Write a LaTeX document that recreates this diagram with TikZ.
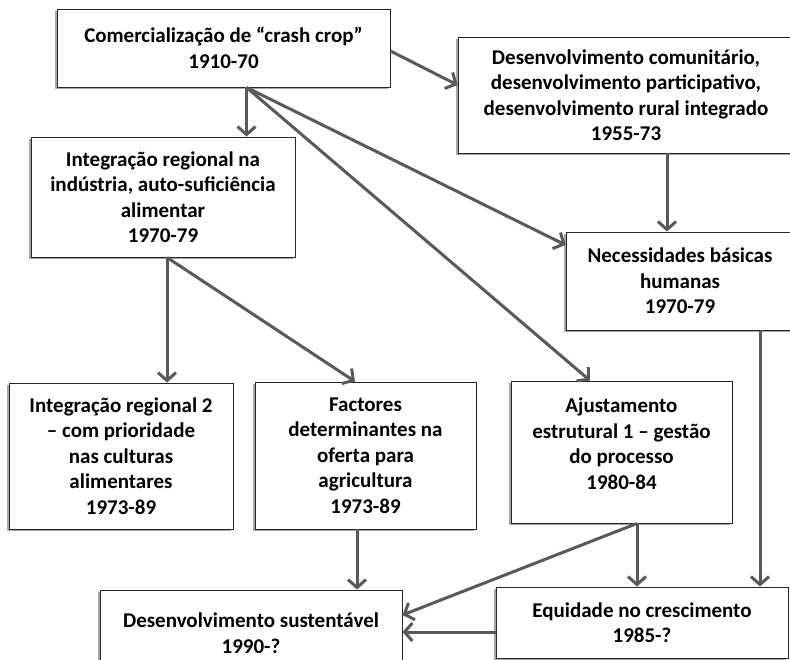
\documentclass[tikz,border=0pt]{standalone}
\usepackage{fontspec}
\setmainfont{Carlito}
\usetikzlibrary{arrows.meta,shadows}
\definecolor{arrowgray}{RGB}{89,89,89}
\tikzset{
  box/.style={draw=black!85, line width=0.9pt, fill=white, inner sep=0pt,
    align=center, font=\fontsize{21}{25.5}\selectfont\bfseries,
    drop shadow={shadow xshift=-2.5pt, shadow yshift=-2pt, opacity=0.35, fill=black}},
  txt/.style={inner sep=0pt, align=center, font=\fontsize{21}{25.5}\selectfont\bfseries},
  conn/.style={draw=arrowgray, line width=3pt, -{Straight Barb[length=8pt,width=18pt]}},
}
\begin{document}
\begin{tikzpicture}[x=1pt,y=-1pt]
\useasboundingbox (0,0) rectangle (790,660);
\clip (0,0) rectangle (790,660);
\node[box, minimum width=333pt, minimum height=78pt] (A) at (223.5,48)
  {Comercialização de “crash crop”\\1910-70};
\node[box, minimum width=264pt, minimum height=120pt] (B) at (163,197)
  {Integração regional na\\indústria, auto-suficiência\\alimentar\\1970-79};
\node[box, minimum width=336pt, minimum height=116pt] (C) at (626,95)
  {Desenvolvimento comunitário,\\desenvolvimento participativo,\\desenvolvimento rural integrado\\1955-73};
\node[box, minimum width=228pt, minimum height=98pt] (D) at (680,281)
  {Necessidades básicas\\humanas\\1970-79};
\node[box, minimum width=224pt, minimum height=146pt] (E) at (121,456)
  {Integração regional 2\\– com prioridade\\nas culturas\\alimentares\\1973-89};
\node[box, minimum width=221pt, minimum height=147pt] (F) at (365.5,455.5)
  {Factores\\determinantes na\\oferta para\\agricultura\\1973-89};
\node[box, minimum width=221pt, minimum height=142pt] (G) at (621.5,452) {};
\node[txt] (Gt) at (621.5,443.5)
  {Ajustamento\\estrutural 1 – gestão\\do processo\\1980-84};
\node[box, minimum width=302pt, minimum height=90pt] (H) at (251,635) {};
\node[txt] (Ht) at (251,633) {Desenvolvimento sustentável\\1990-?};
\node[box, minimum width=292pt, minimum height=71pt] (I) at (642,622.5)
  {Equidade no crescimento\\1985-?};

\coordinate (As) at ([xshift=23pt]A.south);
\coordinate (Bs) at ([xshift=4pt]B.south);
\draw[conn] (As) -- (As |- B.north);
\draw[conn] (As) -- ([yshift=36pt]D.west);
\draw[conn] (As) -- ([xshift=-31.5pt]G.north);
\draw[conn] ([yshift=-3pt]A.east) -- ([yshift=10pt]C.west);
\draw[conn] ([xshift=41pt]C.south) -- ([xshift=41pt]C.south |- D.north);
\draw[conn] ([xshift=80pt]D.south) -- ([xshift=80pt]D.south |- I.north);
\draw[conn] (Bs) -- (Bs |- E.north);
\draw[conn] (Bs) -- ([xshift=-10.5pt]F.north);
\draw[conn] ([xshift=-8.5pt]F.south) -- ([xshift=-8.5pt]F.south |- H.north);
\draw[conn] ([xshift=15.5pt]G.south) -- ([xshift=15.5pt]G.south |- I.north);
\draw[conn] ([xshift=15.5pt]G.south) -- ([yshift=20pt]H.east);
\draw[conn] ([yshift=-9.5pt]I.west) -- ([yshift=-9.5pt]I.west -| H.east);
\end{tikzpicture}
\end{document}
